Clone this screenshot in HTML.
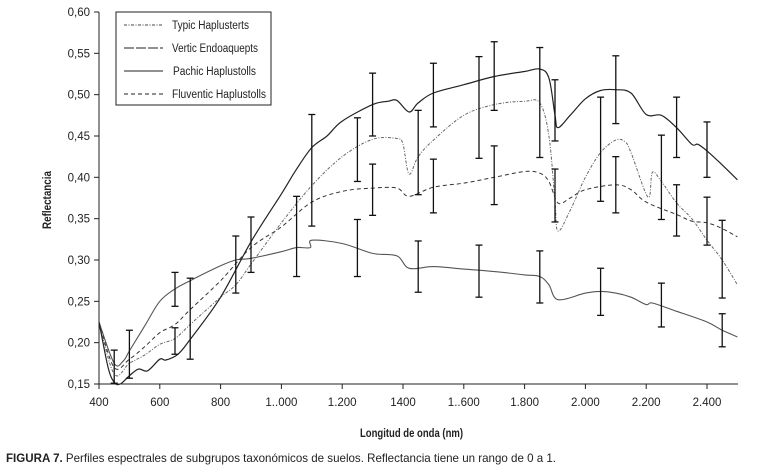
<!DOCTYPE html>
<html><head><meta charset="utf-8">
<style>
body{margin:0;background:#fff;width:767px;height:472px;overflow:hidden}
svg{display:block}
text{font-family:"Liberation Sans Narrow","Liberation Sans",sans-serif;fill:#222}
</style></head><body>
<svg id="chart" width="767" height="472" viewBox="0 0 767 472" xmlns="http://www.w3.org/2000/svg">
<g id="axes"></g>
<g id="series"></g>
<g id="errs"></g>
<g>
<rect x="116" y="12" width="155" height="93" fill="#fff" stroke="#222" stroke-width="1"/>
<line x1="124" y1="25" x2="163" y2="25" stroke="#444" stroke-dasharray="3,1.5,1,1.5"/>
<text x="172" y="29" font-size="11.5" textLength="77" lengthAdjust="spacingAndGlyphs">Typic Haplusterts</text>
<line x1="124" y1="48" x2="163" y2="48" stroke="#222" stroke-dasharray="10,2"/>
<text x="172" y="52" font-size="11.5" textLength="86" lengthAdjust="spacingAndGlyphs">Vertic Endoaquepts</text>
<line x1="124" y1="71" x2="163" y2="71" stroke="#222"/>
<text x="173" y="75" font-size="11.5" textLength="83" lengthAdjust="spacingAndGlyphs">Pachic Haplustolls</text>
<line x1="124" y1="94" x2="163" y2="94" stroke="#222" stroke-dasharray="4,3"/>
<text x="172" y="98" font-size="11.5" textLength="94" lengthAdjust="spacingAndGlyphs">Fluventic Haplustolls</text>
</g>
<text transform="translate(51,200) rotate(-90)" text-anchor="middle" font-size="11.5" font-weight="bold" textLength="58" lengthAdjust="spacingAndGlyphs">Reflectancia</text>
<text x="360" y="437" font-size="11.5" font-weight="bold" textLength="103" lengthAdjust="spacingAndGlyphs">Longitud de onda (nm)</text>
<text x="6" y="462" font-size="12" textLength="550" lengthAdjust="spacingAndGlyphs"><tspan font-weight="bold">FIGURA 7.</tspan> Perfiles espectrales de subgrupos taxonómicos de suelos. Reflectancia tiene un rango de 0 a 1.</text>
</svg>
<script>
const xTicks=[400,600,800,1000,1200,1400,1600,1800,2000,2200,2400];
const xTickLabels=["400","600","800","1..000","1.200","1400","1..600","1.800","2.000","2.200","2.400"];
const yTicks=[0.15,0.20,0.25,0.30,0.35,0.40,0.45,0.50,0.55,0.60];
const yTickLabels=["0,15","0,20","0,25","0,30","0,35","0,40","0,45","0,50","0,55","0,60"];
const pachicNm=[400,430,450,470,500,530,560,600,620,660,700,800,900,1000,1050,1100,1150,1200,1300,1350,1380,1420,1450,1500,1600,1700,1800,1850,1880,1900,1910,1950,2000,2050,2100,2150,2200,2250,2300,2350,2370,2400,2450,2500];
const pachicVal=[0.225,0.17,0.152,0.15,0.160,0.168,0.166,0.180,0.179,0.186,0.204,0.255,0.322,0.38,0.41,0.436,0.45,0.468,0.488,0.492,0.493,0.479,0.490,0.502,0.512,0.522,0.528,0.531,0.52,0.475,0.46,0.475,0.495,0.505,0.506,0.502,0.476,0.475,0.46,0.44,0.44,0.432,0.415,0.397];
const typicNm=[400,450,500,550,600,650,700,800,850,900,1000,1100,1200,1300,1380,1400,1420,1450,1500,1600,1700,1800,1850,1880,1900,1910,1950,2000,2050,2100,2130,2150,2206,2220,2250,2300,2350,2400,2450,2500];
const typicVal=[0.225,0.162,0.175,0.185,0.198,0.205,0.222,0.255,0.27,0.295,0.345,0.39,0.425,0.446,0.447,0.44,0.404,0.425,0.445,0.475,0.488,0.492,0.49,0.45,0.37,0.335,0.36,0.40,0.43,0.445,0.443,0.43,0.376,0.406,0.395,0.369,0.35,0.324,0.30,0.27];
const fluvNm=[400,450,500,550,600,650,700,800,900,1000,1100,1200,1300,1380,1420,1500,1600,1700,1800,1850,1880,1910,1950,2000,2100,2150,2200,2300,2350,2400,2450,2500];
const fluvVal=[0.225,0.17,0.18,0.195,0.212,0.222,0.24,0.275,0.315,0.34,0.37,0.383,0.387,0.387,0.377,0.388,0.393,0.40,0.407,0.405,0.395,0.369,0.375,0.385,0.391,0.385,0.37,0.355,0.347,0.345,0.338,0.328];
const verticNm=[400,450,480,500,550,600,650,700,800,850,900,1000,1050,1095,1100,1200,1300,1380,1420,1500,1600,1700,1800,1850,1880,1910,2000,2050,2100,2150,2200,2220,2300,2400,2450,2500];
const verticVal=[0.225,0.175,0.178,0.19,0.22,0.25,0.265,0.275,0.293,0.30,0.302,0.31,0.315,0.315,0.324,0.32,0.308,0.305,0.29,0.292,0.289,0.286,0.282,0.28,0.27,0.252,0.26,0.262,0.26,0.255,0.246,0.248,0.238,0.225,0.215,0.207];
const errNm=[450,500,650,650,700,850,900,1050,1100,1250,1250,1300,1300,1450,1450,1500,1500,1650,1650,1700,1700,1850,1850,1900,1900,2050,2050,2100,2100,2250,2250,2300,2300,2400,2400,2450,2450];
const errLo=[0.151,0.157,0.244,0.186,0.180,0.26,0.285,0.28,0.341,0.395,0.28,0.45,0.354,0.379,0.261,0.461,0.357,0.423,0.255,0.481,0.367,0.424,0.248,0.444,0.346,0.371,0.233,0.465,0.357,0.349,0.219,0.424,0.329,0.400,0.318,0.254,0.195];
const errHi=[0.191,0.215,0.285,0.218,0.278,0.329,0.352,0.377,0.476,0.472,0.349,0.526,0.416,0.481,0.323,0.538,0.422,0.546,0.318,0.564,0.438,0.557,0.311,0.518,0.41,0.497,0.290,0.547,0.425,0.451,0.272,0.497,0.391,0.467,0.376,0.348,0.235];

const NS="http://www.w3.org/2000/svg";
const X=nm=>99+(nm-400)*0.304;
const Y=v=>384-(v-0.15)*826.7;
function mk(tag,attrs,parent){const e=document.createElementNS(NS,tag);for(const k in attrs)e.setAttribute(k,attrs[k]);parent.appendChild(e);return e;}
const axes=document.getElementById('axes');
let a=mk('line',{x1:99,y1:12,x2:99,y2:384,stroke:'#222'},axes);


a=mk('line',{x1:99,y1:384,x2:738,y2:384,stroke:'#222'},axes);


yTicks.forEach((v,i)=>{
 mk('line',{x1:94,y1:Y(v),x2:99,y2:Y(v),stroke:'#222'},axes);
 const t=mk('text',{x:90,y:Y(v)+4,'text-anchor':'end','font-size':'11.5'},axes);
 t.textContent=yTickLabels[i];
 
 
});
xTicks.forEach((v,i)=>{
 mk('line',{x1:X(v),y1:384,x2:X(v),y2:389,stroke:'#222'},axes);
 const t=mk('text',{x:X(v),y:406,'text-anchor':'middle','font-size':'11.5'},axes);
 t.textContent=xTickLabels[i];
 
 
});
const sg=document.getElementById('series');
function smoothPath(pts){
 let d='M'+pts[0][0].toFixed(1)+','+pts[0][1].toFixed(1);
 for(let i=0;i<pts.length-1;i++){
  const p0=pts[Math.max(0,i-1)],p1=pts[i],p2=pts[i+1],p3=pts[Math.min(pts.length-1,i+2)];
  const c1=[p1[0]+(p2[0]-p0[0])/6,p1[1]+(p2[1]-p0[1])/6];
  const c2=[p2[0]-(p3[0]-p1[0])/6,p2[1]-(p3[1]-p1[1])/6];
  d+=' C'+c1.map(v=>v.toFixed(1)).join(',')+' '+c2.map(v=>v.toFixed(1)).join(',')+' '+p2[0].toFixed(1)+','+p2[1].toFixed(1);
 }
 return d;
}
function line(nm,val,name,stroke,dash,w){
 const pts=nm.map((n,i)=>[X(n),Y(val[i])]);
 const e=mk('path',{d:smoothPath(pts),fill:'none',stroke:stroke,'stroke-width':w,'stroke-linejoin':'round'},sg);
 if(dash)e.setAttribute('stroke-dasharray',dash);
 
 
}
line(verticNm,verticVal,'series-vertic-endoaquepts','#555','',1.1);
line(fluvNm,fluvVal,'series-fluventic-haplustolls','#333','4,3',1);
line(typicNm,typicVal,'series-typic-haplusterts','#666','3,1.5,1,1.5',1);
line(pachicNm,pachicVal,'series-pachic-haplustolls','#222','',1.2);
const eg=document.getElementById('errs');
errNm.forEach((n,i)=>{
 const x=X(n),y1=Y(errLo[i]),y2=Y(errHi[i]);
 const g=mk('g',{stroke:'#111','stroke-width':1.3},eg);
 
 
 mk('line',{x1:x,y1:y1,x2:x,y2:y2},g);
 mk('line',{x1:x-3.5,y1:y1,x2:x+3.5,y2:y1},g);
 mk('line',{x1:x-3.5,y1:y2,x2:x+3.5,y2:y2},g);
});
</script>
</body></html>
